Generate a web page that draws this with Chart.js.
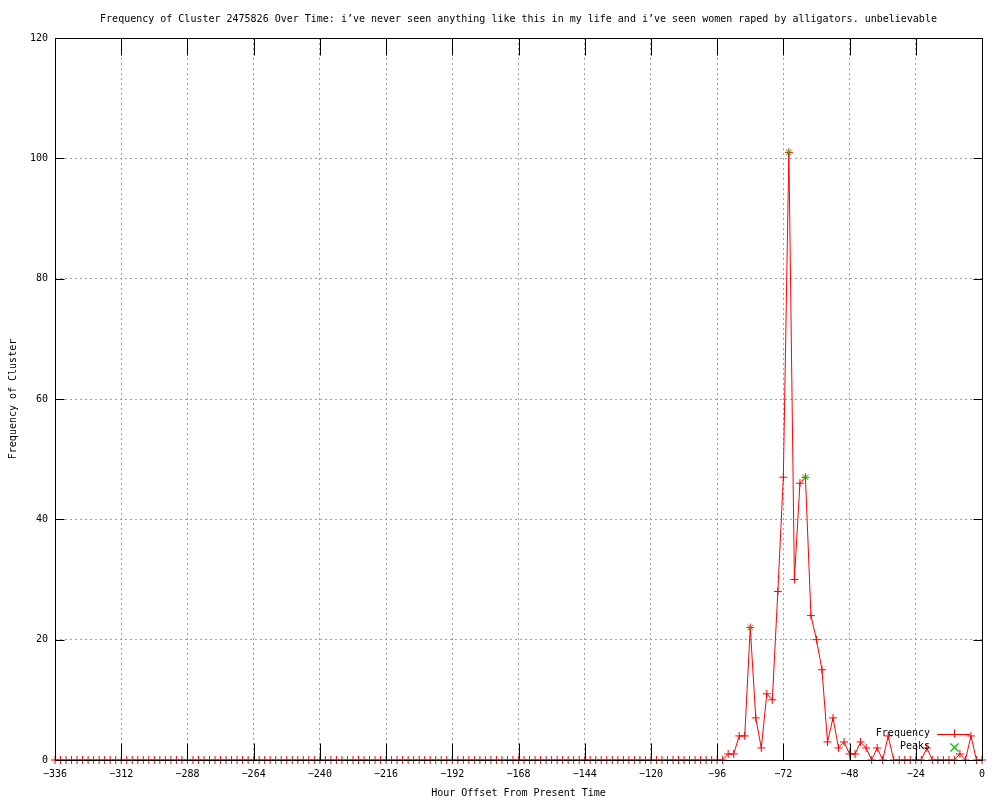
<!DOCTYPE html>
<html>
<head>
<meta charset="utf-8">
<script src="https://cdn.jsdelivr.net/npm/chart.js@4.4.1/dist/chart.umd.min.js"></script>
<style>
html,body{margin:0;padding:0;background:#fff;}
#wrap{width:1000px;height:800px;position:relative;}
</style>
</head>
<body>
<div id="wrap"><canvas id="c"></canvas></div>
<script>
const titleText = "Frequency of Cluster 2475826 Over Time: i\u2019ve never seen anything like this in my life and i\u2019ve seen women raped by alligators. unbelievable";
const xTitle = "Hour Offset From Present Time";
const yTitle = "Frequency of Cluster";

const hours = [
-336,-334,-332,-330,-328,-326,-324,-322,-320,-318,-316,-314,
-312,-310,-308,-306,-304,-302,-300,-298,-296,-294,-292,-290,
-288,-286,-284,-282,-280,-278,-276,-274,-272,-270,-268,-266,
-264,-262,-260,-258,-256,-254,-252,-250,-248,-246,-244,-242,
-240,-238,-236,-234,-232,-230,-228,-226,-224,-222,-220,-218,
-216,-214,-212,-210,-208,-206,-204,-202,-200,-198,-196,-194,
-192,-190,-188,-186,-184,-182,-180,-178,-176,-174,-172,-170,
-168,-166,-164,-162,-160,-158,-156,-154,-152,-150,-148,-146,
-144,-142,-140,-138,-136,-134,-132,-130,-128,-126,-124,-122,
-120,-118,-116,-114,-112,-110,-108,-106,-104,-102,-100,-98,
-96,-94,-92,-90,-88,-86,-84,-82,-80,-78,-76,-74,
-72,-70,-68,-66,-64,-62,-60,-58,-56,-54,-52,-50,
-48,-46,-44,-42,-40,-38,-36,-34,-32,-30,-28,-26,
-24,-22,-20,-18,-16,-14,-12,-10,-8,-6,-4,-2,
0
];
const frequency = [
0,0,0,0,0,0,0,0,0,0,0,0,
0,0,0,0,0,0,0,0,0,0,0,0,
0,0,0,0,0,0,0,0,0,0,0,0,
0,0,0,0,0,0,0,0,0,0,0,0,
0,0,0,0,0,0,0,0,0,0,0,0,
0,0,0,0,0,0,0,0,0,0,0,0,
0,0,0,0,0,0,0,0,0,0,0,0,
0,0,0,0,0,0,0,0,0,0,0,0,
0,0,0,0,0,0,0,0,0,0,0,0,
0,0,0,0,0,0,0,0,0,0,0,0,
0,0,1,1,4,4,22,7,2,11,10,28,
47,101,30,46,47,24,20,15,3,7,2,3,
1,1,3,2,0,2,0,4,0,0,0,0,
0,0,2,0,0,0,0,0,1,0,4,0,
0
];
const peakHours = [-84, -70, -64];
const peakValues = [22, 101, 47];

const xTicks = [-336,-312,-288,-264,-240,-216,-192,-168,-144,-120,-96,-72,-48,-24,0];
const yTicks = [0,20,40,60,80,100,120];

const FONT = "'DejaVu Sans Mono', 'Liberation Mono', monospace";
const RED = '#ff0000';
const GREEN = '#00c000';

const framePlugin = {
  id: 'frame',
  afterDatasetsDraw(chart) {
    const {ctx, chartArea: a, scales} = chart;
    ctx.save();
    ctx.strokeStyle = '#000';
    ctx.lineWidth = 1;
    const L = Math.round(a.left) + 0.5, R = Math.round(a.right) + 0.5;
    const T = Math.round(a.top) + 0.5, B = Math.round(a.bottom) + 0.5;
    ctx.beginPath();
    const tx = 17, ty = 9;
    xTicks.forEach(v => {
      const px = Math.round(scales.x.getPixelForValue(v)) + 0.5;
      ctx.moveTo(px, B); ctx.lineTo(px, B - tx);
      ctx.moveTo(px, T); ctx.lineTo(px, T + tx);
    });
    yTicks.forEach(v => {
      const py = Math.round(scales.y.getPixelForValue(v)) + 0.5;
      ctx.moveTo(L, py); ctx.lineTo(L + ty, py);
      ctx.moveTo(R, py); ctx.lineTo(R - ty, py);
    });
    ctx.stroke();
    ctx.strokeRect(L, T, R - L, B - T);
    ctx.restore();
  },
  afterDraw(chart) {
    const {ctx, chartArea: a} = chart;
    ctx.save();
    ctx.font = '10px ' + FONT;
    ctx.fillStyle = '#000';
    ctx.textAlign = 'right';
    ctx.textBaseline = 'middle';
    const textR = a.right - 52;
    const y1 = a.bottom - 26.5, y2 = a.bottom - 13.5;
    ctx.fillText('Frequency', textR, y1);
    ctx.fillText('Peaks', textR, y2);
    const sx0 = textR + 7, sx1 = textR + 40, mid = (sx0 + sx1) / 2;
    ctx.strokeStyle = RED; ctx.lineWidth = 1;
    ctx.beginPath();
    ctx.moveTo(sx0, Math.round(y1) + 0.5); ctx.lineTo(sx1, Math.round(y1) + 0.5);
    ctx.moveTo(Math.round(mid) + 0.5, y1 - 4); ctx.lineTo(Math.round(mid) + 0.5, y1 + 4);
    ctx.stroke();
    ctx.strokeStyle = GREEN;
    ctx.lineWidth = 1.3;
    ctx.beginPath();
    const gy = Math.round(y2) + 0.5, gx = Math.round(mid) + 0.5;
    ctx.moveTo(gx - 4, gy - 4); ctx.lineTo(gx + 4, gy + 4);
    ctx.moveTo(gx + 4, gy - 4); ctx.lineTo(gx - 4, gy + 4);
    ctx.stroke();
    ctx.restore();
  }
};

new Chart(document.getElementById('c'), {
  type: 'line',
  data: {
    datasets: [
      {
        label: 'Frequency',
        data: hours.map((h, i) => ({x: h, y: frequency[i]})),
        borderColor: RED,
        backgroundColor: RED,
        borderWidth: 1,
        tension: 0,
        pointStyle: 'cross',
        pointRadius: 4,
        pointBorderWidth: 1,
        pointBorderColor: RED,
        pointHoverRadius: 4,
        clip: false,
        order: 2
      },
      {
        label: 'Peaks',
        data: peakHours.map((h, i) => ({x: h, y: peakValues[i]})),
        showLine: false,
        borderColor: GREEN,
        backgroundColor: GREEN,
        pointStyle: 'crossRot',
        pointRadius: 4,
        pointBorderWidth: 1,
        pointBorderColor: GREEN,
        clip: false,
        order: 1
      }
    ]
  },
  options: {
    responsive: true,
    maintainAspectRatio: false,
    animation: false,
    devicePixelRatio: 1,
    layout: {padding: {left: 0, right: 18, top: 0, bottom: 0}},
    plugins: {
      legend: {display: false},
      tooltip: {enabled: false},
      title: {
        display: true,
        fullSize: false,
        text: titleText,
        color: '#000',
        font: {family: FONT, size: 10, weight: 'normal', lineHeight: 1.2},
        padding: {top: 13, bottom: 13}
      }
    },
    scales: {
      x: {
        type: 'linear',
        min: -336, max: 0,
        afterFit: s => { s.height = 40; },
        afterBuildTicks: s => { s.ticks = xTicks.map(v => ({value: v})); },
        ticks: {
          color: '#000', padding: 8, maxRotation: 0, autoSkip: false,
          font: {family: FONT, size: 10},
          callback: v => String(v).replace('-', '\u2212')
        },
        grid: {color: '#a0a0a0', lineWidth: 1, drawTicks: false},
        border: {display: false, dash: [2, 3]},
        title: {
          display: true, text: xTitle, color: '#000',
          font: {family: FONT, size: 10, lineHeight: 1.2},
          padding: {top: 0, bottom: 1}
        }
      },
      y: {
        type: 'linear',
        min: 0, max: 120,
        afterFit: s => { s.width = 55; },
        afterBuildTicks: s => { s.ticks = yTicks.map(v => ({value: v})); },
        ticks: {
          color: '#000', padding: 7, autoSkip: false,
          font: {family: FONT, size: 10}
        },
        grid: {color: '#a0a0a0', lineWidth: 1, drawTicks: false},
        border: {display: false, dash: [2, 3]},
        title: {
          display: true, text: yTitle, color: '#000',
          font: {family: FONT, size: 10, lineHeight: 1.2},
          padding: {top: 7, bottom: 0}
        }
      }
    }
  },
  plugins: [framePlugin]
});
</script>
</body>
</html>
